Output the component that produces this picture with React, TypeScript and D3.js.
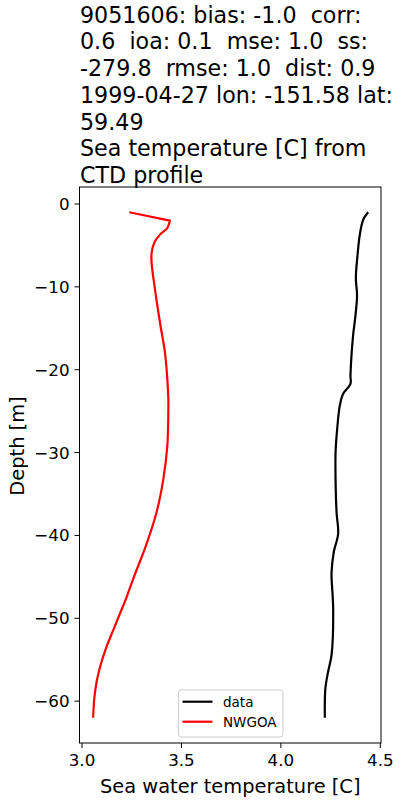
import React from "react";
import * as d3 from "d3";

const titleLines = [
  "9051606: bias: -1.0  corr:",
  "0.6  ioa: 0.1  mse: 1.0  ss:",
  "-279.8  rmse: 1.0  dist: 0.9",
  "1999-04-27 lon: -151.58 lat:",
  "59.49",
  "Sea temperature [C] from",
  "CTD profile",
];

const dataDepth = [-1, -1.9, -3.7, -6.3, -8.9, -11.1, -13.9, -15.9, -20.7, -21.7, -22.9, -24.4, -27.2, -30, -33.2, -37.2, -39.8, -42, -44.4, -45.2, -48.8, -54.4, -56.4, -58.4, -62];
const dataTemp = [4.439, 4.414, 4.397, 4.385, 4.377, 4.383, 4.373, 4.363, 4.35, 4.35, 4.313, 4.296, 4.283, 4.275, 4.275, 4.28, 4.288, 4.266, 4.255, 4.255, 4.263, 4.255, 4.238, 4.224, 4.221];

const modelDepth = [-1, -2, -2.9, -3.7, -4.7, -5.9, -7.1, -10.3, -14.3, -17.9, -21.1, -23.5, -25.2, -29.2, -33.2, -37.2, -41.2, -45.2, -47.6, -49.6, -51.6, -53.6, -55.6, -57.6, -59.6, -62];
const modelTemp = [3.238, 3.442, 3.429, 3.392, 3.363, 3.35, 3.35, 3.367, 3.392, 3.417, 3.429, 3.434, 3.434, 3.429, 3.409, 3.375, 3.322, 3.258, 3.222, 3.188, 3.154, 3.121, 3.094, 3.074, 3.062, 3.056];

const xTicks = [3.0, 3.5, 4.0, 4.5];
const yTicks = [0, -10, -20, -30, -40, -50, -60];

const legendItems = [
  { label: "data", color: "#000000" },
  { label: "NWGOA", color: "#ff0000" },
];

export default function App() {
  const W = 400, H = 800;
  const left = 79.5, right = 381, top = 187, bottom = 743;
  const x = d3.scaleLinear().domain([2.9874, 4.5035]).range([left, right]);
  const y = d3.scaleLinear().domain([2.05, -65.05]).range([top, bottom]);
  const font = "DejaVu Sans";

  const line = d3
    .line<[number, number]>()
    .x((d) => x(d[0]))
    .y((d) => y(d[1]))
    .curve(d3.curveCatmullRom.alpha(0.5));
  const lineLin = d3
    .line<[number, number]>()
    .x((d) => x(d[0]))
    .y((d) => y(d[1]));

  const dataPts: [number, number][] = dataTemp.map((t, i) => [t, dataDepth[i]]);
  const modelPts: [number, number][] = modelTemp.map((t, i) => [t, modelDepth[i]]);
  const modelPath =
    lineLin(modelPts.slice(0, 2))! + line(modelPts.slice(1))!.replace(/^M/, "L");

  const fmtY = (v: number) => (v < 0 ? "\u2212" + Math.abs(v) : String(v));

  return (
    <svg
      width={W}
      height={H}
      style={{ position: "absolute", left: 0, top: 0, background: "#fff" }}
      fontFamily={font}
    >
      <rect x={0} y={0} width={W} height={H} fill="#fff" />
      {titleLines.map((t, i) => (
        <text key={i} x={80} y={22.7 + i * 26.7} fontSize={22.2} fill="#000" style={{ whiteSpace: "pre" }}>
          {t}
        </text>
      ))}
      <clipPath id="clip">
        <rect x={left} y={top} width={right - left} height={bottom - top} />
      </clipPath>
      <g clipPath="url(#clip)">
        <path d={line(dataPts)!} fill="none" stroke="#000" strokeWidth={2.2} strokeLinejoin="round" />
        <path d={modelPath} fill="none" stroke="#ff0000" strokeWidth={2.2} strokeLinejoin="round" />
      </g>
      <rect x={left} y={top} width={right - left} height={bottom - top} fill="none" stroke="#000" strokeWidth={1} />
      {xTicks.map((t) => (
        <g key={t}>
          <line x1={x(t)} x2={x(t)} y1={bottom} y2={bottom + 5} stroke="#000" />
          <text x={x(t)} y={bottom + 23} fontSize={16.7} textAnchor="middle">
            {t.toFixed(1)}
          </text>
        </g>
      ))}
      {yTicks.map((t) => (
        <g key={t}>
          <line x1={left - 5} x2={left} y1={y(t)} y2={y(t)} stroke="#000" />
          <text x={left - 10} y={y(t) + 6} fontSize={16.7} textAnchor="end">
            {fmtY(t)}
          </text>
        </g>
      ))}
      <text x={(left + right) / 2} y={793} fontSize={19.4} textAnchor="middle">
        Sea water temperature [C]
      </text>
      <text
        transform={`translate(24, 446) rotate(-90)`}
        fontSize={19.4}
        textAnchor="middle"
      >
        Depth [m]
      </text>
      <rect x={178.5} y={690} width={104.5} height={47} rx={3} fill="#fff" fillOpacity={0.8} stroke="#ccc" />
      {legendItems.map((it, i) => (
        <g key={it.label}>
          <line x1={182.5} x2={212.5} y1={701.7 + i * 20} y2={701.7 + i * 20} stroke={it.color} strokeWidth={2.2} />
          <text x={223} y={706.5 + i * 20} fontSize={13.5}>
            {it.label}
          </text>
        </g>
      ))}
    </svg>
  );
}
